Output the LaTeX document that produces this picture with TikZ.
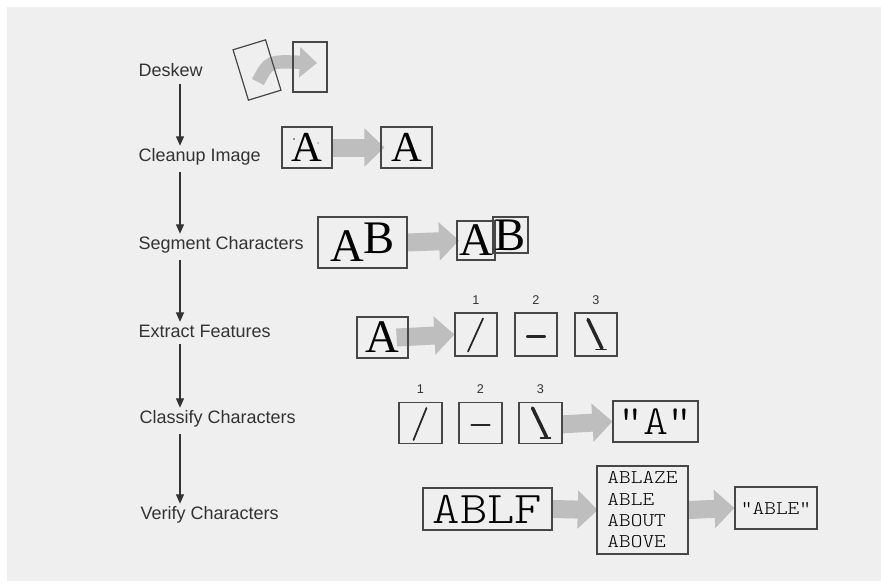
\documentclass[tikz,border=0pt]{standalone}
\usepackage{fontspec}
\setmainfont{Liberation Sans}
\newfontfamily\serifA{Liberation Serif}
\newfontfamily\typeA{lmmonolt10-regular.otf}[FakeStretch=1.15]
\usepackage{tikz}
\usetikzlibrary{arrows.meta}
\definecolor{paper}{HTML}{EFEFEF}
\definecolor{arrowgrey}{HTML}{BEBEBE}
\definecolor{ink}{HTML}{333333}
\pgfdeclarelayer{sheet}
\pgfdeclarelayer{under}
\pgfsetlayers{sheet,under,main}

\begin{document}
\begin{tikzpicture}[x=0.75pt,y=-0.75pt,
    stage/.style={anchor=west,inner sep=1pt,text=ink,font=\fontsize{13.5}{15}\selectfont},
    flow/.style={ink,line width=0.8pt,-{Triangle[length=7pt,width=6pt]}},
    frame/.style={draw=black!72,line width=0.9pt,inner sep=0pt},
    fat/.style={draw=arrowgrey,line width=13.5pt,-{Triangle[length=15pt,width=28pt]}},
    stroke/.style={black!85,line width=1.3pt,line cap=round},
    num/.style={text=ink,inner sep=1pt,font=\fontsize{9.5}{11}\selectfont}]
\useasboundingbox (0,0) rectangle (881,586);
\begin{pgfonlayer}{sheet}
    \fill[paper] (7,7) rectangle (881,581);
\end{pgfonlayer}

    % steps on the left
    \node[stage] (deskew)   at (137,70)  {Deskew};
    \node[stage] (cleanup)  at (137,157) {Cleanup Image};
    \node[stage] (segment)  at (137,245) {Segment Characters};
    \node[stage] (extract)  at (137,331) {Extract Features};
    \node[stage] (classify) at (138,419) {Classify Characters};
    \node[stage] (verify)   at (139,515) {Verify Characters};
    \coordinate (col) at (180,0);
    \draw[flow,shorten <=4pt,shorten >=1pt] (deskew.south -| col) -- (cleanup.north -| col);
    \draw[flow,shorten <=4pt,shorten >=1pt] (cleanup.south -| col) -- (segment.north -| col);
    \draw[flow,shorten <=4pt,shorten >=1pt] (segment.south -| col) -- (extract.north -| col);
    \draw[flow,shorten <=4pt,shorten >=1pt] (extract.south -| col) -- (classify.north -| col);
    \draw[flow,shorten <=4pt,shorten >=1pt] (classify.south -| col) -- (verify.north -| col);

    % deskew
    \node[frame,minimum width=25.5pt,minimum height=39.5pt,rotate=17] (tilt) at (257,70) {};
    \node[frame,minimum width=25.5pt,minimum height=37.5pt] (square) at (310,67) {};

    % cleanup
    \node[frame,minimum width=37.5pt,minimum height=30.75pt] (dirtyA) at (307,147.5)
        {\serifA\fontsize{32}{32}\selectfont A};
    \node[frame,minimum width=38.25pt,minimum height=30.75pt] (cleanA) at (406.5,147.5)
        {\serifA\fontsize{32}{32}\selectfont A};
    \fill[black!80] (294,139) circle(0.9) (300,152) circle(0.7) (318,143) circle(0.7);

    % segment
    \node[frame,minimum width=66.75pt,minimum height=38.25pt] (pair) at (362.5,242.5)
        {\serifA\fontsize{35}{35}\selectfont\raisebox{-3pt}{A}\raisebox{3pt}{B}};
    \node[frame,minimum width=28.5pt,minimum height=29.25pt] (segA) at (476,240.5)
        {\serifA\fontsize{35}{35}\selectfont A};
    \node[frame,minimum width=26.25pt,minimum height=27pt] (segB) at (510.5,235)
        {\serifA\fontsize{35}{35}\selectfont B};

    % extract
    \node[frame,minimum width=38.25pt,minimum height=30.75pt] (letter) at (382.5,337.5)
        {\serifA\fontsize{35}{35}\selectfont A};
    \foreach \i/\x in {1/476,2/536,3/596}{
        \node[frame,minimum width=31.5pt,minimum height=32.25pt] (f\i) at (\x,334.5) {};
        \node[num,above=5pt] (n\i) at (f\i.north) {\i};
    }
    \draw[stroke] ([shift={(-8,17)}]f1.center) -- ([shift={(7,-16)}]f1.center);
    \draw[stroke,line width=1.6pt] ([shift={(-9,2)}]f2.center) -- ([shift={(9,2)}]f2.center);
    \draw[stroke,line width=2.6pt] ([shift={(-8,-15)}]f3.center) -- ([shift={(6,14)}]f3.center);
    \draw[stroke] ([shift={(0,15)}]f3.center) -- ([shift={(10,15)}]f3.center);

    % classify
    \foreach \i/\x in {1/420.5,2/480.5,3/540.5}{
        \node[frame,minimum width=32.25pt,minimum height=30.75pt] (k\i) at (\x,423) {};
        \node[num,above=5pt] (m\i) at (k\i.north) {\i};
    }
    \draw[stroke] ([shift={(-7,17)}]k1.center) -- ([shift={(6,-15)}]k1.center);
    \draw[stroke,line width=1.6pt] ([shift={(-9,2)}]k2.center) -- ([shift={(9,2)}]k2.center);
    \draw[stroke,line width=2.6pt] ([shift={(-8,-15)}]k3.center) -- ([shift={(6,14)}]k3.center);
    \draw[stroke] ([shift={(0,15)}]k3.center) -- ([shift={(10,15)}]k3.center);
    \node[frame,minimum width=63.75pt,minimum height=30.75pt,
        font=\typeA\fontsize{31}{31}\selectfont] (label) at (655.5,421.5) {"A"};

    % verify
    \node[frame,minimum width=96.75pt,minimum height=31.5pt,
        font=\typeA\fontsize{34}{34}\selectfont] (word) at (487.5,509) {ABLF};
    \node[frame,minimum width=68.25pt,minimum height=66pt,align=left,inner xsep=3pt,
        font=\typeA\fontsize{14.5}{16}\selectfont] (lexicon) at (642.5,510)
        {ABLAZE\\ABLE\\ABOUT\\ABOVE};
    \node[frame,minimum width=61.5pt,minimum height=31.5pt,
        font=\typeA\fontsize{14.5}{16}\selectfont] (answer) at (776,508) {"ABLE"};

    % grey arrows between the pictures
\begin{pgfonlayer}{under}
    \draw[fat,line width=10pt,-{Triangle[length=13pt,width=22pt]}]
        ([shift={(1,12)}]tilt.center) .. controls ([shift={(12,-9)}]tilt.center)
        .. ([shift={(7,-4)}]square.center);
    \draw[fat] (dirtyA.east) -- ([xshift=3pt]cleanA.west);
    \draw[fat] (pair.east) -- ([xshift=2pt]segA.west);
    \draw[fat] ([xshift=-9pt]letter.east) -- (f1.west);
    \draw[fat] ([yshift=-1pt]k3.east) -- (label.west);
    \draw[fat] (word.east) -- ([xshift=1pt]lexicon.west);
    \draw[fat] (lexicon.east) -- (answer.west);
\end{pgfonlayer}
\end{tikzpicture}
\end{document}
